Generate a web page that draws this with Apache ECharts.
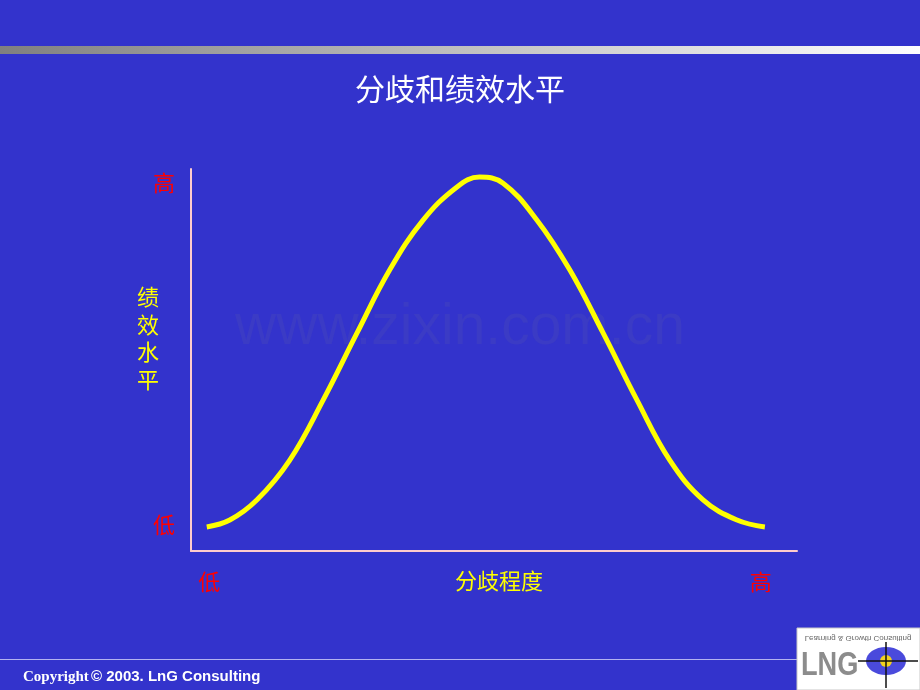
<!DOCTYPE html>
<html>
<head>
<meta charset="utf-8">
<script src="https://cdn.jsdelivr.net/npm/echarts@6/dist/echarts.min.js"></script>
<style>
html,body{margin:0;padding:0;background:#3333CC;}
#chart{width:920px;height:690px;}
</style>
</head>
<body>
<div id="chart"></div>
<script>
// ---- data ----
var titleText = '分歧和绩效水平';
var xAxisName = '分歧程度';
var yAxisName = '绩效水平';
var xTickValues = [3, 94];
var xTickLabels = ['低', '高'];
var yTickValues = [7, 96.5];
var yTickLabels = ['低', '高'];
var curveX = [2.6, 6.4, 10.9, 16.3, 21.8, 27.4, 32.8, 38.3, 43.9, 47.6, 51.5, 57.1, 62.5, 68.0, 73.6, 79.0, 84.5, 90.1, 94.7];
var curveY = [6.3, 8.1, 13.4, 23.8, 39.5, 57.1, 73.6, 86.6, 95.3, 97.9, 96.3, 86.6, 73.6, 57.1, 39.5, 23.8, 13.4, 8.1, 6.3];
var watermark = 'www.zixin.com.cn';
var copyrightA = 'Copyright';
var copyrightB = '© 2003. LnG Consulting';
var logoText = 'Learning & Growth Consulting';

var cjk = '"Noto Sans CJK SC", sans-serif';
var chart = echarts.init(document.getElementById('chart'));
var pts = curveX.map(function (x, i) { return [x, curveY[i]]; });

function tickFmt(vals, labels) {
  return function (v) {
    for (var i = 0; i < vals.length; i++) if (Math.abs(vals[i] - v) < 1e-6) return labels[i];
    return '';
  };
}

chart.setOption({
  backgroundColor: '#3333CC',
  animation: false,
  title: {
    text: titleText, left: 'center', top: 69,
    textStyle: { color: '#FFFFFF', fontSize: 30, fontWeight: 'normal', fontFamily: cjk }
  },
  grid: { left: 191, right: 123, top: 169, bottom: 139 },
  xAxis: {
    type: 'value', min: 0, max: 100,
    name: xAxisName, nameLocation: 'middle', nameGap: 19, nameMoveOverlap: false,
    nameTextStyle: { color: '#FFFF00', fontSize: 22, fontFamily: cjk, verticalAlign: 'top', padding: [0, 0, 0, 10] },
    axisLine: { show: true, lineStyle: { color: '#FFCCCC', width: 2 } },
    axisTick: { show: false },
    splitLine: { show: false },
    axisLabel: {
      customValues: xTickValues, formatter: tickFmt(xTickValues, xTickLabels),
      color: '#FF0000', fontSize: 22, fontFamily: cjk, margin: 20
    }
  },
  yAxis: {
    type: 'value', min: 0, max: 100,
    name: yAxisName.split('').join('\n') + '\n{s| }', nameLocation: 'middle', nameRotate: 0, nameGap: 43, nameMoveOverlap: false,
    nameTextStyle: { color: '#FFFF00', fontSize: 22, fontFamily: cjk, lineHeight: 27.5, align: 'center', verticalAlign: 'middle',
      rich: { s: { fontSize: 10, lineHeight: 44 } } },
    axisLine: { show: true, lineStyle: { color: '#FFCCCC', width: 2 } },
    axisTick: { show: false },
    splitLine: { show: false },
    axisLabel: {
      customValues: yTickValues, formatter: tickFmt(yTickValues, yTickLabels),
      color: '#FF0000', fontSize: 22, fontFamily: cjk, margin: 16
    }
  },
  series: [{
    type: 'line', data: pts, smooth: 0.4, showSymbol: false, z: 5,
    lineStyle: { color: '#FFFF00', width: 5 }
  }],
  graphic: [
    { type: 'rect', z: -5, shape: { x: 0, y: 46, width: 920, height: 8 },
      style: { fill: new echarts.graphic.LinearGradient(0, 0, 1, 0, [{ offset: 0, color: '#808080' }, { offset: 1, color: '#FFFFFF' }]) } },
    { type: 'text', z: -5, x: 460, y: 328,
      style: { text: watermark, fill: '#3B3BC5', font: '57px "Liberation Sans", Arial, sans-serif', align: 'center', verticalAlign: 'middle' } },
    { type: 'rect', z: -5, shape: { x: 0, y: 659, width: 800, height: 1 }, style: { fill: '#B3B3F0' } },
    { type: 'text', z: -5, x: 23, y: 677,
      style: { text: copyrightA, fill: '#FFFFFF', font: 'bold 15px "Liberation Serif", serif', verticalAlign: 'middle' } },
    { type: 'text', z: -5, x: 91, y: 677,
      style: { text: copyrightB, fill: '#FFFFFF', font: 'bold 15px "Liberation Sans", Arial, sans-serif', verticalAlign: 'middle' } },
    // logo
    { type: 'rect', z: -5, shape: { x: 797, y: 628, width: 123, height: 62 }, style: { fill: '#FFFFFF', stroke: '#C8C8C8', lineWidth: 1 } },
    { type: 'text', z: -4, x: 858, y: 638, scaleY: -1,
      style: { text: logoText, fill: '#666666', font: '8px "Liberation Sans", sans-serif', align: 'center', verticalAlign: 'middle' } },
    { type: 'text', z: -4, x: 801, y: 666, scaleX: 0.8,
      style: { text: 'LNG', fill: '#8C8C8C', font: 'bold 34px "Liberation Sans", sans-serif', verticalAlign: 'middle' } },
    { type: 'ellipse', z: -4, shape: { cx: 886, cy: 661, rx: 20, ry: 14 }, style: { fill: '#4A4ADC' } },
    { type: 'circle', z: -3, shape: { cx: 886, cy: 661, r: 6 }, style: { fill: '#F2D21E' } },
    { type: 'line', z: -2, shape: { x1: 858, y1: 661, x2: 918, y2: 661 }, style: { stroke: '#111111', lineWidth: 1.5 } },
    { type: 'line', z: -2, shape: { x1: 886, y1: 642, x2: 886, y2: 688 }, style: { stroke: '#111111', lineWidth: 1.5 } }
  ]
});
</script>
</body>
</html>
